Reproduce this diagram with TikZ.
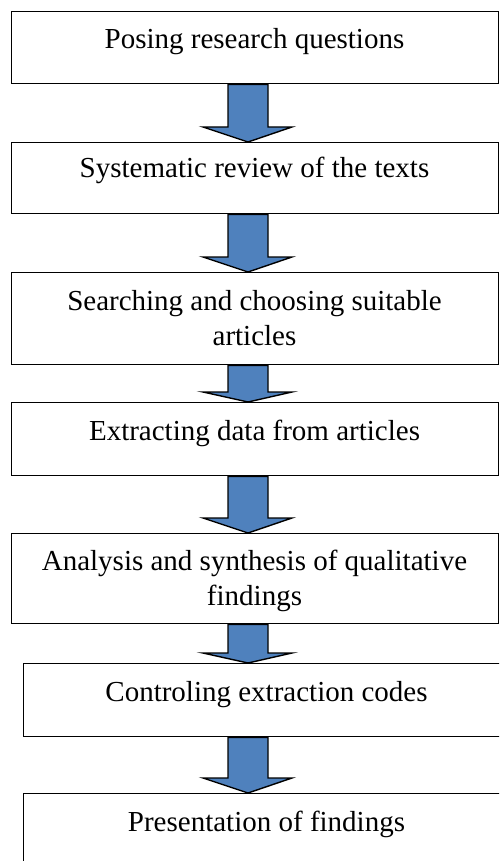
\documentclass[tikz,border=0pt]{standalone}
\usepackage{fontspec}
\setmainfont{Liberation Serif}
\definecolor{arrowblue}{RGB}{79,129,189}
\newcommand\flowarrow[3]{%
  \draw[barrow] (228,0 |- #1.south) -- (228,#3) -- (203,#3) -- (248,0 |- #2.north)
    -- (292,#3) -- (268,#3) -- (268,0 |- #1.south) -- cycle;}
\begin{document}
\begin{tikzpicture}[x=1pt,y=-1pt]
\tikzset{
  box/.style={draw=black, line width=1.4pt, fill=white, inner sep=0pt, anchor=north west},
  lbl/.style={font=\fontsize{29}{35}\selectfont, anchor=base, inner sep=0pt},
  barrow/.style={draw=black, line width=1.4pt, fill=arrowblue, line join=miter},
}
\useasboundingbox (0,0) rectangle (499,861);
\clip (0,0) rectangle (499,861);
\node[box, minimum width=487pt, minimum height=72pt] (b1) at (11,11) {};
\node[box, minimum width=487pt, minimum height=71pt] (b2) at (11,142) {};
\node[box, minimum width=487pt, minimum height=92pt] (b3) at (11,272) {};
\node[box, minimum width=487pt, minimum height=73pt] (b4) at (11,402) {};
\node[box, minimum width=487pt, minimum height=90pt] (b5) at (11,533) {};
\node[box, minimum width=487pt, minimum height=73pt] (b6) at (23,663) {};
\node[box, minimum width=487pt, minimum height=100pt] (b7) at (23,793) {};
\flowarrow{b1}{b2}{127}
\flowarrow{b2}{b3}{257}
\flowarrow{b3}{b4}{392}
\flowarrow{b4}{b5}{518}
\flowarrow{b5}{b6}{653}
\flowarrow{b6}{b7}{778}
\node[lbl] (t1) at (254.5,49) {Posing research questions};
\node[lbl] (t2) at (254.5,178) {Systematic review of the texts};
\node[lbl] (t3a) at (254.5,310) {Searching and choosing suitable};
\node[lbl] (t3b) at (254.5,345) {articles};
\node[lbl] (t4) at (254.5,440) {Extracting data from articles};
\node[lbl] (t5a) at (254.5,570) {Analysis and synthesis of qualitative};
\node[lbl] (t5b) at (254.5,605) {findings};
\node[lbl] (t6) at (266.5,701) {Controling extraction codes};
\node[lbl] (t7) at (266.5,831) {Presentation of findings};
\end{tikzpicture}
\end{document}
